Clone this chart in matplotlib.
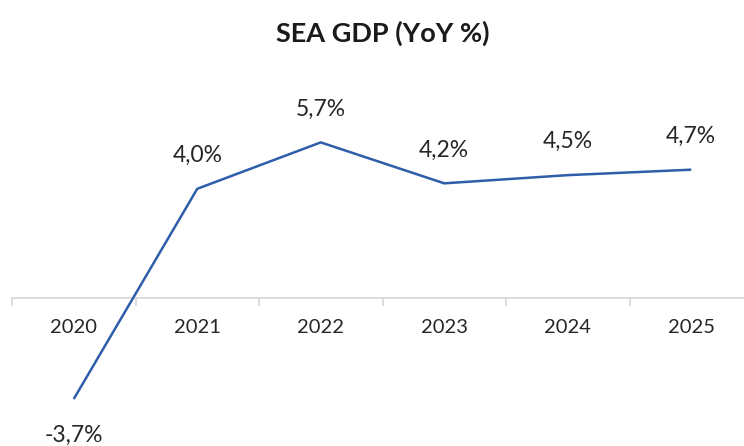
import matplotlib
matplotlib.use("Agg")
import matplotlib.pyplot as plt
import numpy as np

years = ["2020", "2021", "2022", "2023", "2024", "2025"]
gdp = [-3.7, 4.0, 5.7, 4.2, 4.5, 4.7]
labels = ["-3,7%", "4,0%", "5,7%", "4,2%", "4,5%", "4,7%"]

plt.rcParams['font.family'] = ['Lato', 'DejaVu Sans']

fig = plt.figure(figsize=(7.44, 4.46), dpi=100)
W, H = 744, 446
ax_left, ax_right = 12, 753
ax_top, ax_bot = 90, 440
ax = fig.add_axes([ax_left / W, (H - ax_bot) / H, (ax_right - ax_left) / W, (ax_bot - ax_top) / H])

zero_px = 298
scale = 27.3
ax.set_ylim(-(ax_bot - zero_px) / scale, (zero_px - ax_top) / scale)
ax.set_xlim(-0.5, 5.5)

x = np.arange(len(years))
ax.plot(x, gdp, color='#2E5DAA', linewidth=1.8, solid_capstyle='butt', zorder=3)

for s in ['top', 'right', 'left']:
    ax.spines[s].set_visible(False)
ax.spines['bottom'].set_position(('data', 0))
ax.spines['bottom'].set_color('#D9D9D9')
ax.spines['bottom'].set_linewidth(1.3)
ax.set_yticks([])
ax.set_xticks(x)
ax.set_xticklabels([])
ax.tick_params(axis='x', which='major', length=0)
ax.set_xticks(np.arange(-0.5, 6.0, 1.0), minor=True)
ax.tick_params(axis='x', which='minor', length=6, width=1.3, color='#D9D9D9', direction='out')

for i, yr in enumerate(years):
    ax.annotate(yr, (i, 0), xytext=(0, -21), textcoords='offset points',
                ha='center', va='center', fontsize=14.5, color='#262626')

for i, (v, lab) in enumerate(zip(gdp, labels)):
    off = 24 if v >= 0 else -26
    ax.annotate(lab, (i, v), xytext=(0, off), textcoords='offset points',
                ha='center', va='center', fontsize=16.5, color='#262626')

fig.text((ax_left + ax_right) / 2 / W, 1 - 33 / H, "SEA GDP (YoY %)", ha='center', va='center',
         fontsize=19.5, fontweight='bold', color='#1a1a1a')

fig.savefig("out.png", dpi=100)
